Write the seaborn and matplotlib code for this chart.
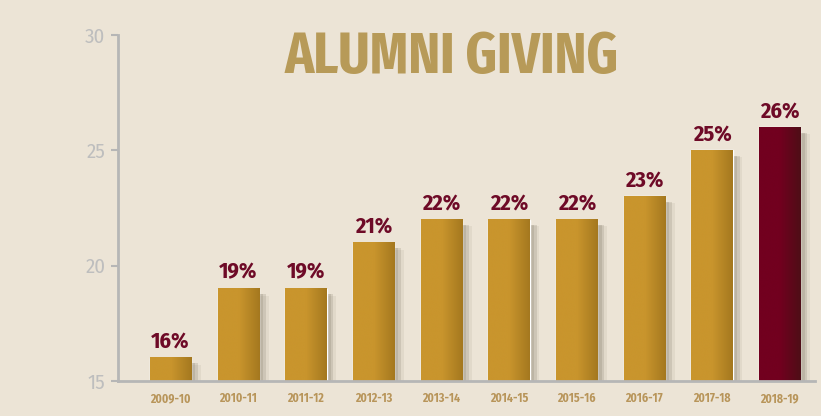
import numpy as np
import pandas as pd
import matplotlib
matplotlib.use("Agg")
import matplotlib.pyplot as plt
import matplotlib.patheffects as pe
from matplotlib.colors import LinearSegmentedColormap, to_rgb
import seaborn as sns

years = ["2009-10", "2010-11", "2011-12", "2012-13", "2013-14",
         "2014-15", "2015-16", "2016-17", "2017-18", "2018-19"]
giving = [16, 19, 19, 21, 22, 22, 22, 23, 25, 26]
y_ticks = [15, 20, 25, 30]
title = "ALUMNI GIVING"

BG = "#ECE4D6"
GOLD = ("#C9952D", "#A4781F")
MAROON = ("#72001F", "#4E0E16")
LABEL = "#6E0A27"
TITLE_C = "#B79A58"
AXIS_C = "#B6B6B6"

sns.set_theme(style="white")
COND = ["Fira Sans Condensed", "DejaVu Sans"]
XCOND = ["Fira Sans Extra Condensed", "DejaVu Sans"]
plt.rcParams["font.family"] = COND

df = pd.DataFrame({"year": years, "giving": giving})
df["grp"] = ["last" if i == len(years) - 1 else "other" for i in range(len(years))]

fig = plt.figure(figsize=(8.21, 4.16), dpi=100, facecolor=BG)
ax = fig.add_axes([118 / 821, 1 - 381 / 416, (815 - 118) / 821, (381 - 35) / 416])
ax.set_facecolor(BG)

sns.barplot(data=df, x="year", y="giving", hue="grp",
            palette={"other": GOLD[0], "last": MAROON[0]},
            width=0.61, dodge=False, legend=False, ax=ax, saturation=1)

ymin, ymax = y_ticks[0], y_ticks[-1]
ax.set_ylim(ymin, ymax)
ax.set_xlim(-0.775, 9.52)

# gradient fill + soft shadow
maroon_r = to_rgb(MAROON[0])[0]
for p in list(ax.patches):
    h = p.get_height()
    if h is None or h == 0:
        continue
    fc = p.get_facecolor()
    is_last = abs(fc[0] - maroon_r) < 0.05
    c0, c1 = MAROON if is_last else GOLD
    p.set_path_effects([
        pe.SimplePatchShadow(offset=(7, -5), shadow_rgbFace="#a69c8a", alpha=0.15),
        pe.SimplePatchShadow(offset=(5, -4), shadow_rgbFace="#8a8070", alpha=0.22),
        pe.SimplePatchShadow(offset=(3, -4), shadow_rgbFace="#7a7060", alpha=0.2),
        pe.Normal()])
    x0 = p.get_x(); w = p.get_width(); top = p.get_y() + h
    cmap = LinearSegmentedColormap.from_list("g", [c0, c0, c1])
    grad = np.linspace(0, 1, 256).reshape(1, -1)
    im = ax.imshow(grad, cmap=cmap, aspect="auto",
                   extent=[x0, x0 + w, ymin, top], zorder=p.get_zorder() + 0.1)
    im.set_clip_path(p)
    im.set_clip_box(ax.bbox)

ax.set_xlim(-0.775, 9.52)
ax.set_ylim(ymin, ymax)

for i, v in enumerate(giving):
    ax.annotate(f"{v}%", (i, v), xytext=(0, 4), textcoords="offset points",
                ha="center", va="bottom", fontsize=16, fontweight="bold",
                color=LABEL, family=COND)

sns.despine(ax=ax, top=True, right=True)
for s in ["left", "bottom"]:
    ax.spines[s].set_color(AXIS_C)
    ax.spines[s].set_linewidth(2)
ax.set_yticks(y_ticks)
ax.set_yticklabels([str(t) for t in y_ticks])
ax.tick_params(axis="y", which="both", left=True, length=5, width=1.5, color=AXIS_C,
               labelsize=15, labelcolor="#BEBEBE", pad=4)
ax.tick_params(axis="x", bottom=False, length=0, labelsize=8.5, labelcolor="#B8955A", pad=8)
for t in ax.get_xticklabels():
    t.set_fontweight("bold")
    t.set_family(COND)
for t in ax.get_yticklabels():
    t.set_family(COND)
ax.set_xlabel("")
ax.set_ylabel("")

fig.text((287 + 617) / 2 / 821, 1 - 58 / 416, title, ha="center", va="center",
         fontsize=42, fontweight="bold", color=TITLE_C, family=XCOND)

fig.savefig("out.png", dpi=100, facecolor=BG)
